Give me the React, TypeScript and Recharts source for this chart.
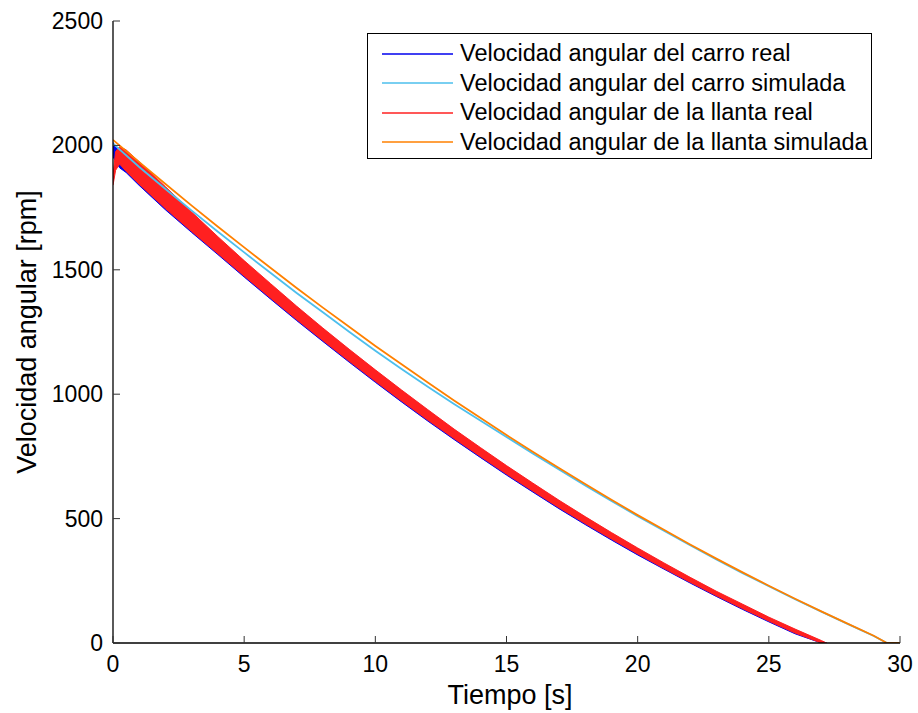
import { ComposedChart, Area, Line, XAxis, YAxis, Legend, Label } from "recharts";

// measured (real) signals: noisy bands, read as [low, high] per time
const tReal = [0, 0.1, 0.25, 0.5, 1, 2, 3, 4, 5, 6, 7, 8, 9, 10, 11, 12, 13, 14, 15, 16, 17, 18, 19, 20, 21, 22, 23, 24, 25, 26, 27, 27.2];
const llantaRealLo = [1840, 1900, 1925, 1896, 1844, 1746, 1654, 1565, 1475, 1387, 1300, 1216, 1133, 1052, 973, 896, 822, 750, 679, 611, 544, 480, 418, 358, 300, 244, 190, 138, 88, 40, 0, 0];
const llantaRealHi = [1880, 1975, 1995, 1982, 1934, 1834, 1732, 1633, 1537, 1445, 1354, 1266, 1181, 1098, 1017, 938, 860, 786, 713, 643, 574, 508, 444, 382, 322, 264, 208, 156, 104, 56, 10, 0];
const carroRealLo = [1955, 1935, 1910, 1891, 1839, 1741, 1650, 1561, 1471, 1383, 1296, 1212, 1129, 1048, 969, 892, 818, 746, 675, 607, 540, 476, 414, 354, 297, 241, 187, 135, 85, 37, 0, 0];
const carroRealHi = [2012, 1995, 1982, 1965, 1924, 1826, 1724, 1626, 1532, 1440, 1350, 1262, 1177, 1094, 1013, 934, 856, 782, 709, 639, 570, 504, 440, 378, 318, 260, 204, 152, 100, 52, 6, 0];

// simulated signals
const tSim = [0, 1, 2, 3, 4, 5, 6, 7, 8, 9, 10, 11, 12, 13, 14, 15, 16, 17, 18, 19, 20, 21, 22, 23, 24, 25, 26, 27, 28, 29, 29.5, 30];
const carroSim = [2007, 1913, 1825, 1738, 1653, 1570, 1488, 1407, 1329, 1251, 1175, 1101, 1030, 961, 894, 828, 762, 697, 633, 571, 510, 451, 393, 336, 281, 228, 176, 126, 77, 28, 0, 0];
const llantaSim = [2022, 1933, 1845, 1758, 1673, 1590, 1508, 1427, 1348, 1271, 1194, 1120, 1047, 975, 905, 836, 769, 703, 639, 576, 514, 455, 396, 339, 284, 230, 178, 127, 78, 29, 0, 0];

const xTicks = [0, 5, 10, 15, 20, 25, 30];
const yTicks = [0, 500, 1000, 1500, 2000, 2500];

const series = [
  { name: "Velocidad angular del carro real", color: "#0000ee" },
  { name: "Velocidad angular del carro simulada", color: "#4dbfed" },
  { name: "Velocidad angular de la llanta real", color: "#ff2020" },
  { name: "Velocidad angular de la llanta simulada", color: "#ff8000" },
];

const carroBand = tReal.map((t, i) => ({ t, v: [carroRealLo[i], carroRealHi[i]] }));
const llantaBand = tReal.map((t, i) => ({ t, v: [llantaRealLo[i], llantaRealHi[i]] }));
const carroSimData = tSim.map((t, i) => ({ t, v: carroSim[i] }));
const llantaSimData = tSim.map((t, i) => ({ t, v: llantaSim[i] }));

const FONT = "'Liberation Sans', Arial, Helvetica, sans-serif";
const TICK_LEN = 7;

function BottomTick({ x, y, payload }: any) {
  return (
    <g>
      <line x1={x} y1={y} x2={x} y2={y - TICK_LEN} stroke="#333" />
      <text x={x} y={y + 29} textAnchor="middle" fontSize={23} fill="#000">
        {payload.value}
      </text>
    </g>
  );
}

function TopTick({ x, y }: any) {
  return <line x1={x} y1={y} x2={x} y2={y + TICK_LEN} stroke="#333" />;
}

function LeftTick({ x, y, payload }: any) {
  return (
    <g>
      <line x1={x} y1={y} x2={x + TICK_LEN} y2={y} stroke="#333" />
      <text x={x - 10} y={y + 8} textAnchor="end" fontSize={23} fill="#000">
        {payload.value}
      </text>
    </g>
  );
}

function RightTick({ x, y }: any) {
  return <line x1={x} y1={y} x2={x - TICK_LEN} y2={y} stroke="#333" />;
}

function LegendBox() {
  return (
    <div
      style={{
        boxSizing: "border-box",
        width: 505,
        height: 126,
        border: "1.3px solid #000",
        background: "#fff",
        paddingTop: 5,
        fontFamily: FONT,
        fontSize: 23.5,
        color: "#000",
      }}
    >
      {series.map((s) => (
        <div key={s.name} style={{ display: "flex", alignItems: "center", height: 29.5, whiteSpace: "nowrap" }}>
          <svg width={71} height={4} style={{ marginLeft: 14, marginRight: 7, display: "block" }}>
            <line x1={0} y1={2} x2={71} y2={2} stroke={s.color} strokeWidth={1.3} />
          </svg>
          <span>{s.name}</span>
        </div>
      ))}
    </div>
  );
}

export default function App() {
  const axisLine = { stroke: "#000", strokeWidth: 1.3 };
  return (
    <div style={{ position: "absolute", left: 0, top: 0, width: 918, height: 713, background: "#fff" }}>
      <ComposedChart width={918} height={713} margin={{ top: 21, right: 18, bottom: 0, left: 0 }} style={{ fontFamily: FONT }}>
        <XAxis
          xAxisId="b"
          type="number"
          dataKey="t"
          domain={[0, 30]}
          ticks={xTicks}
          height={70}
          tickSize={0}
          tickMargin={0}
          tickLine={false}
          tick={<BottomTick />}
          axisLine={axisLine}
          allowDataOverflow
        >
          <Label
            content={() => (
              <text x={510} y={704} textAnchor="middle" fontSize={27} fill="#000" fontFamily={FONT}>
                Tiempo [s]
              </text>
            )}
          />
        </XAxis>
        <XAxis
          xAxisId="top"
          orientation="top"
          type="number"
          domain={[0, 30]}
          ticks={xTicks}
          height={0}
          tickSize={0}
          tickMargin={0}
          tickLine={false}
          tick={<TopTick />}
          axisLine={axisLine}
        />
        <YAxis
          yAxisId="l"
          type="number"
          domain={[0, 2500]}
          ticks={yTicks}
          width={113}
          tickSize={0}
          tickMargin={0}
          tickLine={false}
          tick={<LeftTick />}
          axisLine={axisLine}
          allowDataOverflow
        >
          <Label
            content={() => (
              <text x={36} y={332} transform="rotate(-90 36 332)" textAnchor="middle" fontSize={27} fill="#000" fontFamily={FONT}>
                Velocidad angular [rpm]
              </text>
            )}
          />
        </YAxis>
        <YAxis
          yAxisId="r"
          orientation="right"
          type="number"
          domain={[0, 2500]}
          ticks={yTicks}
          width={0}
          tickSize={0}
          tickMargin={0}
          tickLine={false}
          tick={<RightTick />}
          axisLine={axisLine}
        />

        <Area
          xAxisId="b"
          yAxisId="l"
          data={carroBand}
          dataKey="v"
          name={series[0].name}
          type="linear"
          stroke={series[0].color}
          strokeWidth={1}
          fill={series[0].color}
          fillOpacity={1}
          dot={false}
          activeDot={false}
          isAnimationActive={false}
        />
        <Line
          xAxisId="b"
          yAxisId="l"
          data={carroSimData}
          dataKey="v"
          name={series[1].name}
          type="linear"
          stroke={series[1].color}
          strokeWidth={1.8}
          dot={false}
          activeDot={false}
          isAnimationActive={false}
        />
        <Area
          xAxisId="b"
          yAxisId="l"
          data={llantaBand}
          dataKey="v"
          name={series[2].name}
          type="linear"
          stroke={series[2].color}
          strokeWidth={1}
          fill={series[2].color}
          fillOpacity={1}
          dot={false}
          activeDot={false}
          isAnimationActive={false}
        />
        <Line
          xAxisId="b"
          yAxisId="l"
          data={llantaSimData}
          dataKey="v"
          name={series[3].name}
          type="linear"
          stroke={series[3].color}
          strokeWidth={1.8}
          dot={false}
          activeDot={false}
          isAnimationActive={false}
        />
        <Legend
          layout="vertical"
          align="center"
          verticalAlign="middle"
          wrapperStyle={{ left: 367, top: 33, width: 505, height: 126 }}
          content={() => <LegendBox />}
        />
      </ComposedChart>
    </div>
  );
}
